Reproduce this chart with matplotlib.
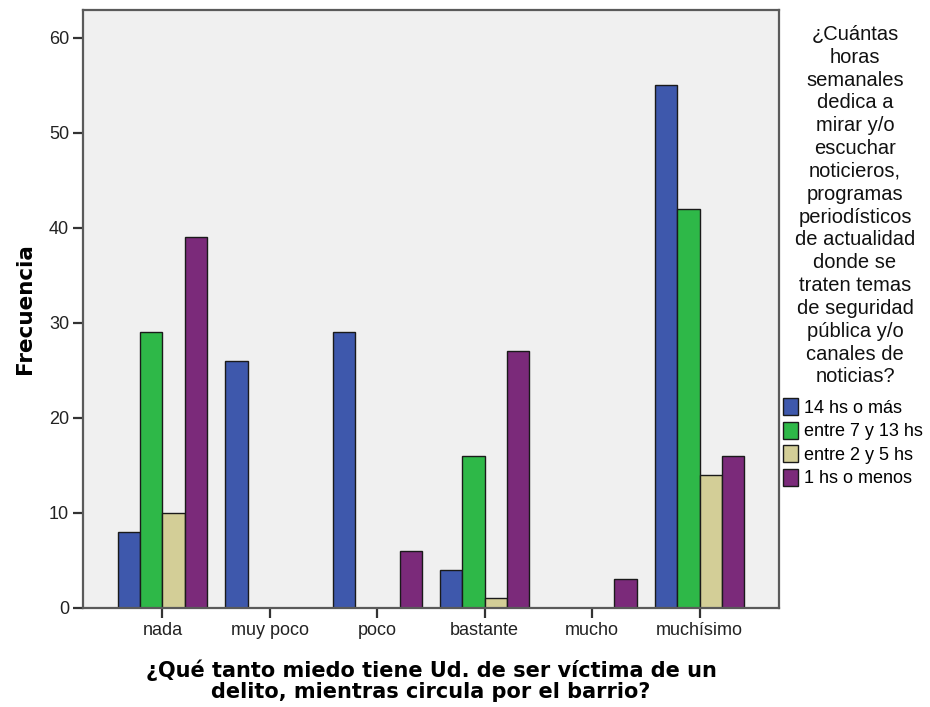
import matplotlib
matplotlib.use("Agg")
import matplotlib.pyplot as plt
import numpy as np
from matplotlib.patches import Patch

categories = ["nada", "muy poco", "poco", "bastante", "mucho", "muchísimo"]
series_names = ["14 hs o más", "entre 7 y 13 hs", "entre 2 y 5 hs", "1 hs o menos"]
h14_mas = [8, 26, 29, 4, 0, 55]
h7_13 = [29, 0, 0, 16, 0, 42]
h2_5 = [10, 0, 0, 1, 0, 14]
h1_menos = [39, 0, 6, 27, 3, 16]
colors = ["#3E58AC", "#2EB848", "#D3CE97", "#7B2A7A"]
yticks = [0, 10, 20, 30, 40, 50, 60]

legend_title = ("¿Cuántas\nhoras\nsemanales\ndedica a\nmirar y/o\nescuchar\nnoticieros,\n"
                "programas\nperiodísticos\nde actualidad\ndonde se\ntraten temas\n"
                "de seguridad\npública y/o\ncanales de\nnoticias?")
xlabel = "¿Qué tanto miedo tiene Ud. de ser víctima de un\ndelito, mientras circula por el barrio?"
ylabel = "Frecuencia"

font = "Liberation Sans"
fig = plt.figure(figsize=(9.3, 7.07), dpi=100)
ax = fig.add_axes([83 / 930, 1 - 608 / 707, 696 / 930, 598 / 707])
ax.set_facecolor("#F0F0F0")

series = [h14_mas, h7_13, h2_5, h1_menos]
x = np.arange(len(categories))
w = 0.207
for i, (vals, c) in enumerate(zip(series, colors)):
    ax.bar(x + (i - 1.5) * w, vals, width=w, color=c, edgecolor="#1a1a1a", linewidth=1.0, zorder=2)

ax.set_xlim(-0.74, len(categories) - 1 + 0.74)
ax.set_ylim(0, 62.9)
ax.set_xticks(x)
ax.set_xticklabels(categories, fontfamily=font, fontsize=13, color="#222222")
ax.set_yticks(yticks)
ax.set_yticklabels([str(v) for v in yticks], fontfamily=font, fontsize=13, color="#222222")
ax.tick_params(axis="both", direction="out", length=7, width=1.6, color="#333333", pad=3)
for s in ax.spines.values():
    s.set_color("#5a5a5a")
    s.set_linewidth(1.6)

ax.set_ylabel(ylabel, fontfamily="DejaVu Sans", fontweight="bold", fontsize=15.5, labelpad=10)
ax.set_xlabel(xlabel, fontfamily="DejaVu Sans", fontweight="bold", fontsize=15,
              linespacing=1.05, labelpad=15)

fig.text(855 / 930, 1 - 25 / 707, legend_title, ha="center", va="top",
         fontfamily=font, fontsize=14.5, linespacing=1.255, color="#111111")

handles = [Patch(facecolor=c, edgecolor="#1a1a1a", linewidth=1.0) for c in colors]
fig.legend(handles, series_names, loc="upper left", bbox_to_anchor=(783 / 930, 1 - 398 / 707),
           frameon=False, prop={"family": font, "size": 13}, handlelength=0.85,
           handleheight=1.1, handletextpad=0.3, labelspacing=0.26, borderpad=0, borderaxespad=0)

fig.savefig("out.png", dpi=100, facecolor="white")
